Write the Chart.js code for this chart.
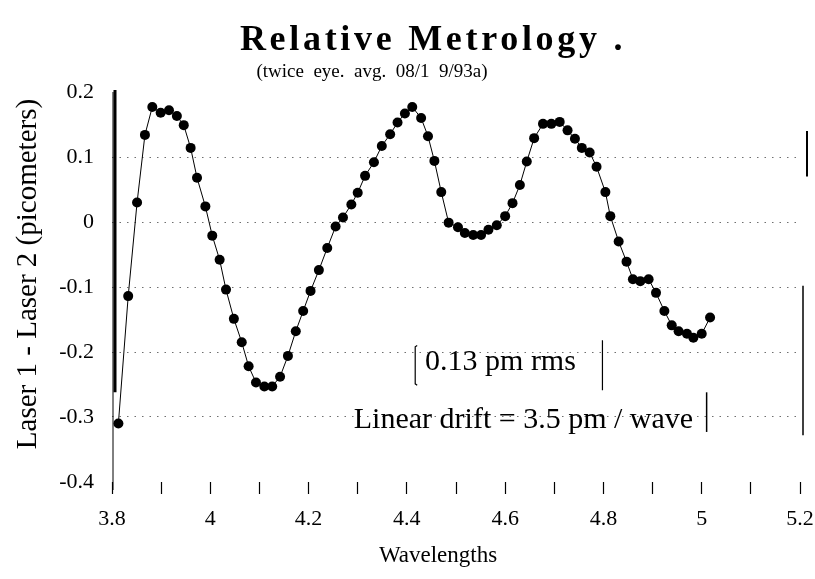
<!DOCTYPE html>
<html>
<head>
<meta charset="utf-8">
<title>Relative Metrology</title>
<script src="https://cdn.jsdelivr.net/npm/chart.js@4/dist/chart.umd.min.js"></script>
<style>
    html, body { margin: 0; padding: 0; background: #fff; }
    #wrap { width: 815px; height: 579px; }
</style>
</head>
<body>
<div id="wrap"><canvas id="chart"></canvas></div>
<script>
// wavelength positions of the samples
const wavelengths = [
    3.813, 3.833, 3.851, 3.867, 3.882, 3.899, 3.916, 3.932, 3.946, 3.960,
    3.973, 3.990, 4.004, 4.019, 4.032, 4.048, 4.064, 4.078, 4.093, 4.110,
    4.126, 4.142, 4.158, 4.174, 4.189, 4.204, 4.221, 4.238, 4.255, 4.270,
    4.287, 4.300, 4.315, 4.333, 4.349, 4.366, 4.381, 4.396, 4.411, 4.429,
    4.443, 4.456, 4.470, 4.485, 4.504, 4.518, 4.535, 4.551, 4.566, 4.583,
    4.600, 4.615, 4.630, 4.644, 4.659, 4.677, 4.694, 4.711, 4.727, 4.742,
    4.756, 4.772, 4.786, 4.804, 4.814, 4.831, 4.847, 4.860, 4.875, 4.892,
    4.907, 4.924, 4.939, 4.953, 4.970, 4.983, 5.000, 5.017
];

// Laser 1 - Laser 2 difference, picometers
const laserDiff = [
    -0.310, -0.114, 0.030, 0.134, 0.177, 0.168, 0.172, 0.163, 0.149, 0.114,
    0.068, 0.024, -0.021, -0.058, -0.104, -0.149, -0.185, -0.222, -0.247, -0.253,
    -0.253, -0.238, -0.206, -0.168, -0.137, -0.106, -0.074, -0.040, -0.007, 0.007,
    0.027, 0.045, 0.071, 0.092, 0.117, 0.135, 0.153, 0.167, 0.177, 0.160,
    0.132, 0.094, 0.046, -0.001, -0.008, -0.017, -0.020, -0.020, -0.012, -0.005,
    0.009, 0.029, 0.057, 0.093, 0.129, 0.151, 0.151, 0.154, 0.141, 0.128,
    0.114, 0.107, 0.085, 0.046, 0.009, -0.030, -0.061, -0.088, -0.091, -0.088,
    -0.109, -0.137, -0.159, -0.168, -0.172, -0.178, -0.172, -0.147
];

const xTickValues = [3.8, 3.9, 4.0, 4.1, 4.2, 4.3, 4.4, 4.5, 4.6, 4.7, 4.8, 4.9, 5.0, 5.1, 5.2];
const xTickLabels = ['3.8', '', '4', '', '4.2', '', '4.4', '', '4.6', '', '4.8', '', '5', '', '5.2'];
const yTickValues = [-0.4, -0.3, -0.2, -0.1, 0, 0.1, 0.2];
const yTickLabels = ['-0.4', '-0.3', '-0.2', '-0.1', '0', '0.1', '0.2'];

const serif = '"Liberation Serif", "DejaVu Serif", serif';

// titles, axis titles and the two boxed notes on the plot
const notesPlugin = {
    id: 'notes',
    afterDraw(chart) {
        const c = chart.ctx;
        const xs = chart.scales.x;
        const ys = chart.scales.y;
        const px = v => xs.getPixelForValue(v);
        const py = v => ys.getPixelForValue(v);
        c.save();
        c.fillStyle = '#000';
        c.strokeStyle = '#000';
        c.textAlign = 'center';
        c.textBaseline = 'alphabetic';

        c.font = 'bold 36px ' + serif;
        c.letterSpacing = '3.7px';
        c.fillText('Relative Metrology .', 433, 50);
        c.letterSpacing = '0px';
        c.font = '19px ' + serif;
        c.fillText('(twice  eye.  avg.  08/1  9/93a)', 372, 77);

        // axis titles
        c.textBaseline = 'middle';
        c.font = '23px ' + serif;
        c.fillText('Wavelengths', 438, 556);
        c.save();
        c.translate(28, 274);
        c.rotate(-Math.PI / 2);
        c.font = '29px ' + serif;
        c.fillText('Laser 1 - Laser 2 (picometers)', 0, 0);
        c.restore();

        // y axis line: heavy upper part, thin lower part
        c.lineWidth = 1;
        c.beginPath();
        c.moveTo(xs.left + 1, ys.top);
        c.lineTo(xs.left + 1, ys.bottom + 8);
        c.stroke();
        c.lineWidth = 3;
        c.beginPath();
        c.moveTo(xs.left + 3, ys.top - 2);
        c.lineTo(xs.left + 3, py(-0.262));
        c.stroke();

        // stray frame marks at the right edge
        c.lineWidth = 2;
        c.beginPath();
        c.moveTo(xs.right + 7, py(0.14));
        c.lineTo(xs.right + 7, py(0.07));
        c.stroke();
        c.lineWidth = 1.5;
        c.beginPath();
        c.moveTo(xs.right + 3, py(-0.098));
        c.lineTo(xs.right + 3, py(-0.328));
        c.stroke();

        // rms note
        c.textBaseline = 'alphabetic';
        c.textAlign = 'left';
        c.font = '30px ' + serif;
        c.fillText('0.13 pm rms', px(4.437), py(-0.228));
        c.lineWidth = 1.2;
        c.beginPath();
        c.moveTo(px(4.421), py(-0.190));
        c.lineTo(px(4.417), py(-0.192));
        c.lineTo(px(4.417), py(-0.249));
        c.lineTo(px(4.421), py(-0.251));
        c.moveTo(px(4.798), py(-0.182));
        c.lineTo(px(4.798), py(-0.259));
        c.stroke();

        // drift note
        c.fillText('Linear drift = 3.5 pm / wave', px(4.292), py(-0.317));
        c.lineWidth = 1.5;
        c.beginPath();
        c.moveTo(px(5.010), py(-0.262));
        c.lineTo(px(5.010), py(-0.323));
        c.stroke();
        c.restore();
    }
};

new Chart(document.getElementById('chart'), {
    type: 'line',
    data: {
        datasets: [{
            data: wavelengths.map((w, i) => ({ x: w, y: laserDiff[i] })),
            borderColor: '#000',
            borderWidth: 1,
            backgroundColor: '#000',
            pointBackgroundColor: '#000',
            pointBorderWidth: 0,
            pointRadius: 5,
            tension: 0,
            fill: false
        }]
    },
    options: {
        responsive: true,
        maintainAspectRatio: false,
        animation: false,
        layout: { padding: { left: 0, right: 0, top: 92, bottom: 35 } },
        plugins: {
            legend: { display: false },
            tooltip: { enabled: false }
        },
        scales: {
            x: {
                type: 'linear',
                min: 3.8,
                max: 5.2,
                afterBuildTicks: scale => {
                    scale.ticks = xTickValues.map(v => ({ value: v }));
                },
                afterFit: scale => {
                    scale.paddingLeft = 0;
                    scale.paddingRight = 15;
                },
                ticks: {
                    autoSkip: false,
                    maxRotation: 0,
                    padding: 14,
                    color: '#000',
                    font: { family: serif, size: 22, lineHeight: 1 },
                    callback: (v, i) => xTickLabels[i]
                },
                grid: {
                    drawOnChartArea: false,
                    drawTicks: true,
                    tickLength: 12,
                    tickColor: '#000',
                    tickWidth: 1.2
                },
                border: { display: false }
            },
            y: {
                min: -0.4,
                max: 0.2,
                afterBuildTicks: scale => {
                    scale.ticks = yTickValues.map(v => ({ value: v }));
                },
                afterFit: scale => { scale.width = 112; },
                ticks: {
                    padding: 18,
                    color: '#000',
                    font: { family: serif, size: 22 },
                    callback: (v, i) => yTickLabels[i]
                },
                grid: {
                    drawTicks: false,
                    color: ctx => {
                        const v = ctx.tick ? ctx.tick.value : 0;
                        return (Math.abs(v - 0.2) < 1e-9 || Math.abs(v + 0.4) < 1e-9) ? 'rgba(0,0,0,0)' : '#6f6f6f';
                    },
                    lineWidth: 1
                },
                border: { display: false, dash: [1.5, 6] }
            }
        }
    },
    plugins: [notesPlugin]
});
</script>
</body>
</html>
